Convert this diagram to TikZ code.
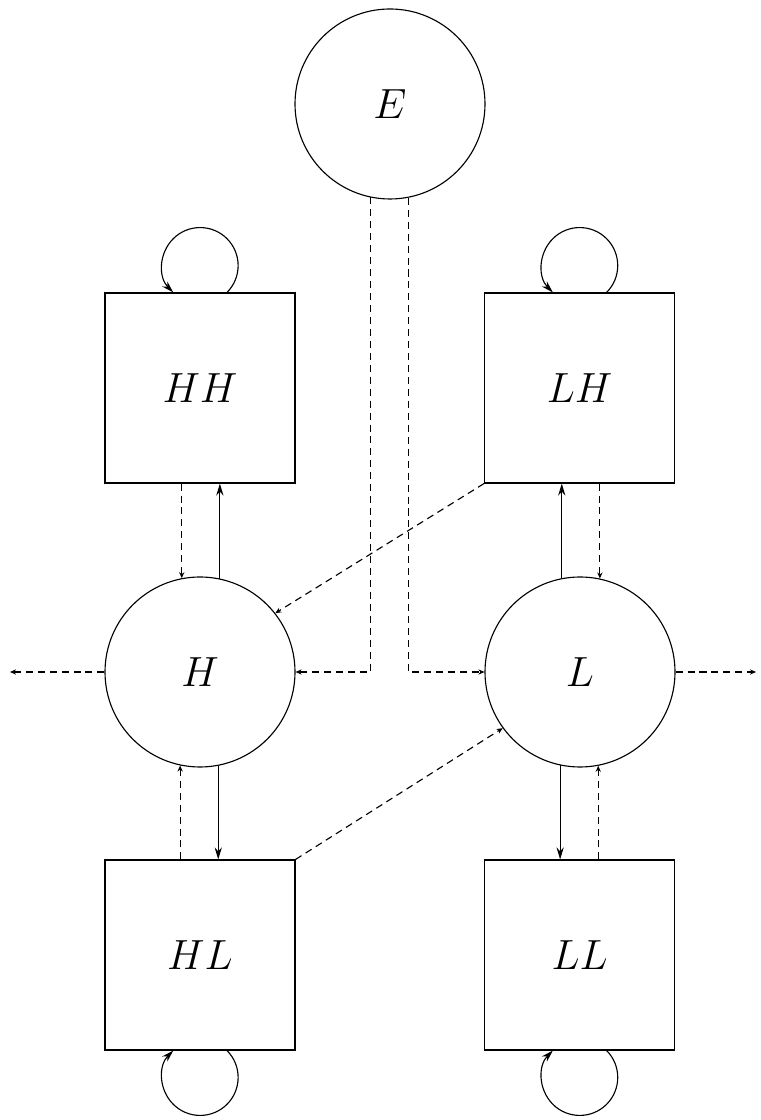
\RequirePackage{fix-cm}
\documentclass[tikz,border=0pt]{standalone}
\usetikzlibrary{arrows.meta}
\tikzset{
  state/.style={draw,circle,minimum size=4.75cm,inner sep=0pt,font=\fontsize{30}{32}\selectfont},
  box/.style={draw,rectangle,minimum size=4.75cm,inner sep=0pt,font=\fontsize{30}{32}\selectfont},
  flow/.style={-{Stealth[length=3mm,width=1.8mm]}},
  ctrl/.style={dash pattern=on 5pt off 3.5pt,-{Stealth[length=1.5mm,width=1.3mm]}}
}
\begin{document}
\begin{tikzpicture}[line width=0.8pt]
            \useasboundingbox (0,0) rectangle (19.025,28);
            % nodes
            \node[state] (E) at (9.75,25.4) {$E$};
            \node[box] (HH) at (5,18.3) {$HH$};
            \node[box] (LH) at (14.49,18.3) {$LH$};
            \node[state] (H) at (5,11.2) {$H$};
            \node[state] (L) at (14.5,11.2) {$L$};
            \node[box] (HL) at (5,4.125) {$HL$};
            \node[box] (LL) at (14.49,4.125) {$LL$};
            \coordinate (west) at (0.25,11.2);
            \coordinate (east) at (18.9,11.2);
            % self loops
            \draw[flow] ([xshift=0.675cm]HH.north) arc (-45:225:0.95cm);
            \draw[flow] ([xshift=0.675cm]LH.north) arc (-45:225:0.95cm);
            \draw[flow] ([xshift=0.675cm]HL.south) arc (45:-225:0.95cm);
            \draw[flow] ([xshift=0.675cm]LL.south) arc (45:-225:0.95cm);
            % E to H and L
            \draw[ctrl] (E.258.5) |- (H.east);
            \draw[ctrl] (E.281.5) |- (L.west);
            % H and its boxes
            \draw[ctrl] (HH.south -| H.101.5) -- (H.101.5);
            \draw[flow] (H.78.5) -- (H.78.5 |- HH.south);
            \draw[ctrl] (HL.north -| H.258.5) -- (H.258.5);
            \draw[flow] (H.281.5) -- (H.281.5 |- HL.north);
            % L and its boxes
            \draw[flow] (L.101.5) -- (L.101.5 |- LH.south);
            \draw[ctrl] (LH.south -| L.78.5) -- (L.78.5);
            \draw[flow] (L.258.5) -- (L.258.5 |- LL.north);
            \draw[ctrl] (LL.north -| L.281.5) -- (L.281.5);
            % cross links
            \draw[ctrl] (LH.south west) -- (H.38);
            \draw[ctrl] (HL.north east) -- (L.216);
            % outputs
            \draw[ctrl] (H.west) -- (west);
            \draw[ctrl] (L.east) -- (east);
\end{tikzpicture}
\end{document}
